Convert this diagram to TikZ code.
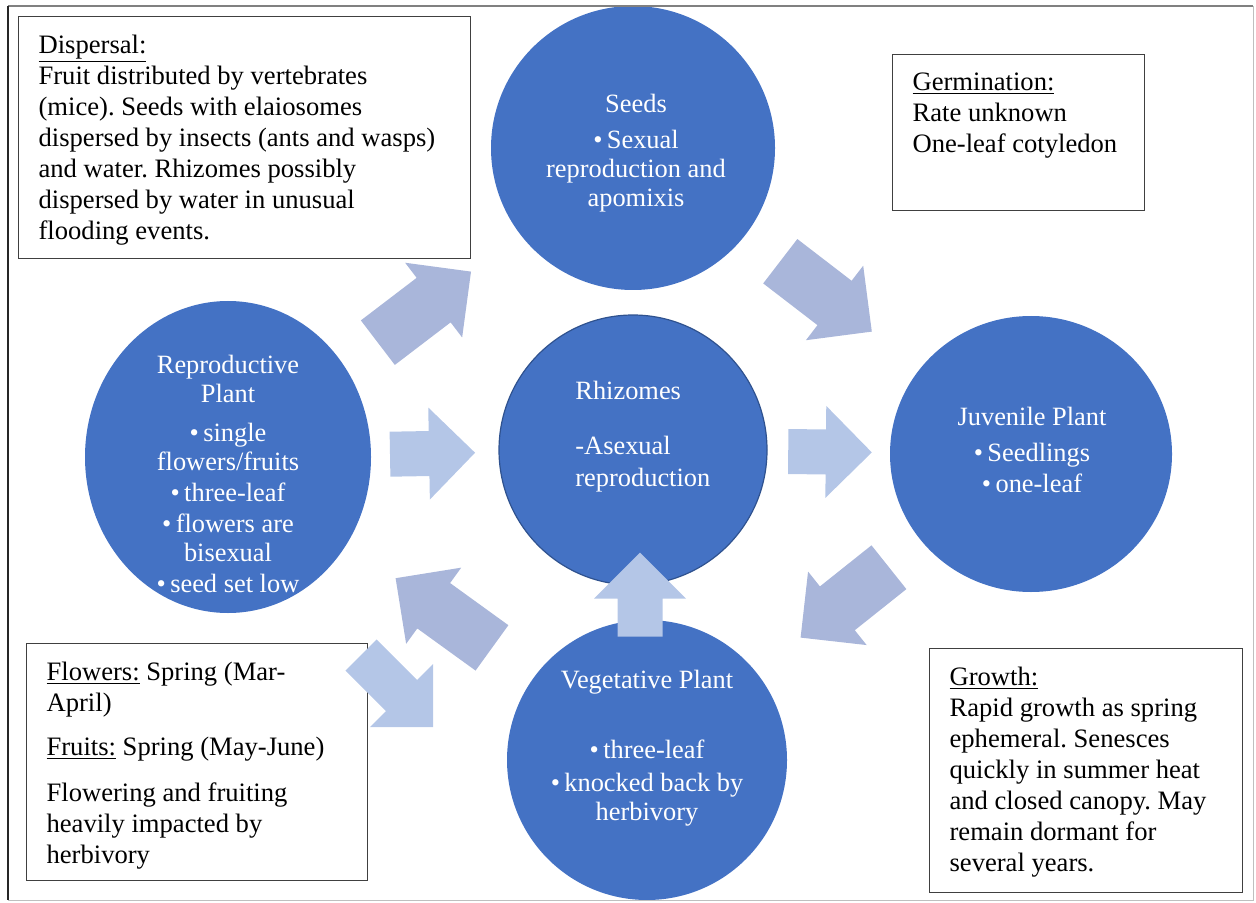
\documentclass[tikz,border=0pt]{standalone}
\usepackage{fontspec}
\setmainfont{Liberation Serif}
\usetikzlibrary{calc,shapes.geometric}
\definecolor{stageblue}{RGB}{68,114,196}
\definecolor{rimblue}{RGB}{47,82,143}
\definecolor{arrowdark}{RGB}{169,182,218}
\definecolor{arrowlight}{RGB}{180,198,231}
\definecolor{boxgrey}{RGB}{64,64,64}
\tikzset{
  stage/.style={
    shape = ellipse,
    fill = stageblue,
    inner sep = 0pt
  },
  stagetext/.style={
    text = white,
    align = center,
    inner sep = 0pt,
    font = \fontsize{13.2}{14.5}\selectfont
  },
  infobox/.style={
    draw = boxgrey,
    line width = 0.6pt,
    anchor = north west,
    inner xsep = 10pt,
    inner ysep = 9pt,
    font = \fontsize{13.3}{15.5}\selectfont
  },
}
\newcommand\boxbody[3]{\parbox[t][#2][t]{#1}{\raggedright #3}}
\newcommand\cyclearrow[7]{%
  \coordinate (tl) at ($(#2)!#4!(#3)$);
  \coordinate (tp) at ($(#2)!#5!(#3)$);
  \coordinate (hb) at ($(tp)!#7!(tl)$);
  \fill[#1] ($(tl)!#6!90:(tp)$) -- ($(hb)!#6!90:(tp)$) -- ($(hb)!#7!90:(tp)$) -- (tp)
    -- ($(hb)!#7!-90:(tp)$) -- ($(hb)!#6!-90:(tp)$) -- ($(tl)!#6!-90:(tp)$) -- cycle;
}
\frenchspacing
\begin{document}
\begin{tikzpicture}[x=0.5pt, y=-0.5pt]
  \useasboundingbox (0,0) rectangle (1256,903);

  \node[stage, minimum width=143pt, minimum height=156pt] (repro) at (228,457) {};
  \node[stage, minimum size=142pt] (seeds) at (633,148) {};
  \node[stage, draw=rimblue, line width=0.6pt, minimum width=134pt, minimum height=135pt] (rhizomes) at (633,450) {};
  \node[stage, minimum width=141pt, minimum height=138pt] (juvenile) at (1031,454) {};
  \node[stage, minimum size=140pt] (vegetative) at (647,760) {};

  \node[stagetext, anchor=north] (reprotext) at (228,355) {Reproductive\\ Plant\\[5pt]
    \textbullet\,single\\ flowers/fruits\\[1pt] \textbullet\,three-leaf\\[1pt]
    \textbullet\,flowers are\\ bisexual\\[1pt] \textbullet\,seed set low};
  \node[stagetext, anchor=north] (seedstext) at (636,94) {Seeds\\[3.5pt]
    \textbullet\,Sexual\\ reproduction and\\ apomixis};
  \node[stagetext, anchor=north west, align=left] (rhizomestext) at (575,381) {Rhizomes\\[13pt]
    -Asexual\\[1.5pt] reproduction};
  \node[stagetext, anchor=north] (juveniletext) at (1032,407) {Juvenile Plant\\[3.5pt]
    \textbullet\,Seedlings\\[1pt] \textbullet\,one-leaf};
  \node[stagetext, anchor=north] (vegetativetext) at (647,670) {Vegetative Plant\\[20.5pt]
    \textbullet\,three-leaf\\[2pt] \textbullet\,knocked back by\\ herbivory};

  \node[infobox] (dispersal) at (18,16) {\boxbody{206pt}{103pt}{\underline{Dispersal:}\\
    Fruit distributed by vertebrates\\ (mice). Seeds with elaiosomes\\
    dispersed by insects (ants and wasps)\\ and water. Rhizomes possibly\\
    dispersed by water in unusual\\ flooding events.}};
  \node[infobox] (germination) at (892,54) {\boxbody{106pt}{60pt}{\underline{Germination:}\\
    Rate unknown\\ One-leaf cotyledon}};
  \node[infobox] (flowers) at (26,643) {\boxbody{150.5pt}{100.5pt}{\underline{Flowers:} Spring (Mar-\\
    April)\\[6.5pt] \underline{Fruits:} Spring (May-June)\\[7.5pt]
    Flowering and fruiting\\ heavily impacted by\\ herbivory}};
  \node[infobox] (growth) at (929,648) {\boxbody{136.5pt}{104pt}{\underline{Growth:}\\
    Rapid growth as spring\\ ephemeral. Senesces\\ quickly in summer heat\\
    and closed canopy. May\\ remain dormant for\\ several years.}};

  \cyclearrow{arrowdark}{repro}{seeds}{0.37}{0.60}{14pt}{23.5pt}
  \cyclearrow{arrowdark}{seeds}{juvenile}{0.37}{0.60}{14pt}{23.5pt}
  \cyclearrow{arrowdark}{juvenile}{vegetative}{0.37}{0.60}{14pt}{23.5pt}
  \cyclearrow{arrowdark}{vegetative}{repro}{0.37}{0.60}{14pt}{23.5pt}
  \cyclearrow{arrowlight}{repro}{rhizomes}{0.40}{0.61}{11.25pt}{23pt}
  \cyclearrow{arrowlight}{rhizomes}{juvenile}{0.39}{0.60}{11.25pt}{23pt}
  \coordinate (vegrise) at ($(vegetative.north)+(-7,17)$);
  \coordinate (rhizdrop) at ($(vegrise |- rhizomes.south)+(0,-33)$);
  \cyclearrow{arrowlight}{vegrise}{rhizdrop}{0}{1}{11.25pt}{23pt}
  \coordinate (fruitstail) at (361,655);
  \coordinate (fruitstip) at (433,727);
  \cyclearrow{arrowlight}{fruitstail}{fruitstip}{0}{1}{11pt}{22.25pt}

  \draw[line width=1pt, black!50] (8,6) -- (1253,6);
  \draw[line width=1.4pt, black!85] (8,6) -- (8,900);
  \draw[line width=0.5pt, black!25] (1253,6) -- (1253,900) -- (8,900);
\end{tikzpicture}
\end{document}
